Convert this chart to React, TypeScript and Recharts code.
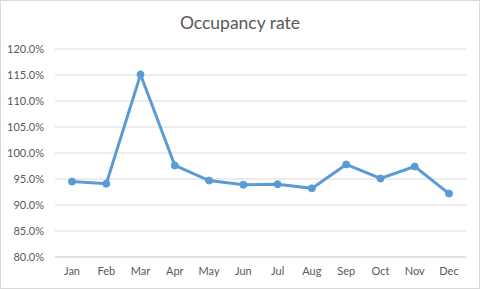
import { LineChart, Line, XAxis, YAxis, CartesianGrid } from "recharts";

const months = ["Jan", "Feb", "Mar", "Apr", "May", "Jun", "Jul", "Aug", "Sep", "Oct", "Nov", "Dec"];
const occupancy = [0.945, 0.941, 1.151, 0.976, 0.947, 0.939, 0.94, 0.932, 0.978, 0.951, 0.974, 0.922];
const yTicks = [0.8, 0.85, 0.9, 0.95, 1.0, 1.05, 1.1, 1.15, 1.2];

const data = months.map((month, i) => ({ month, rate: occupancy[i] }));

const textColor = "#595959";
const font = "Lato, 'Open Sans', sans-serif";

export default function App() {
  return (
    <div
      style={{
        position: "relative",
        width: 480,
        height: 289,
        boxSizing: "border-box",
        border: "1px solid #d9d9d9",
        background: "#fff",
        fontFamily: font,
      }}
    >
      <style>{"body{margin:0}"}</style>
      <div
        style={{
          position: "absolute",
          top: 11,
          left: 0,
          width: "100%",
          textAlign: "center",
          fontSize: 17.5,
          color: textColor,
          lineHeight: "22px",
        }}
      >
        Occupancy rate
      </div>
      <div style={{ position: "absolute", left: -1, top: -1 }}>
        <LineChart width={480} height={289} data={data} margin={{ top: 49, right: 14, bottom: 2, left: 0 }}>
          <CartesianGrid vertical={false} stroke="#d9d9d9" />
          <XAxis
            dataKey="month"
            axisLine={{ stroke: "#d9d9d9" }}
            tickLine={false}
            tickMargin={4}
            padding={{ left: 17, right: 17 }}
            tick={{ fill: textColor, fontSize: 11, fontFamily: font }}
            interval={0}
          />
          <YAxis
            width={55}
            domain={[0.8, 1.2]}
            ticks={yTicks}
            axisLine={false}
            tickLine={false}
            tickMargin={5}
            tickFormatter={(v: number) => `${(v * 100).toFixed(1)}%`}
            tick={{ fill: textColor, fontSize: 11, fontFamily: font }}
          />
          <Line
            type="linear"
            dataKey="rate"
            stroke="#5b9bd5"
            strokeWidth={3}
            dot={{ r: 3.5, fill: "#5b9bd5", stroke: "#5b9bd5", strokeWidth: 1 }}
            isAnimationActive={false}
          />
        </LineChart>
      </div>
    </div>
  );
}
